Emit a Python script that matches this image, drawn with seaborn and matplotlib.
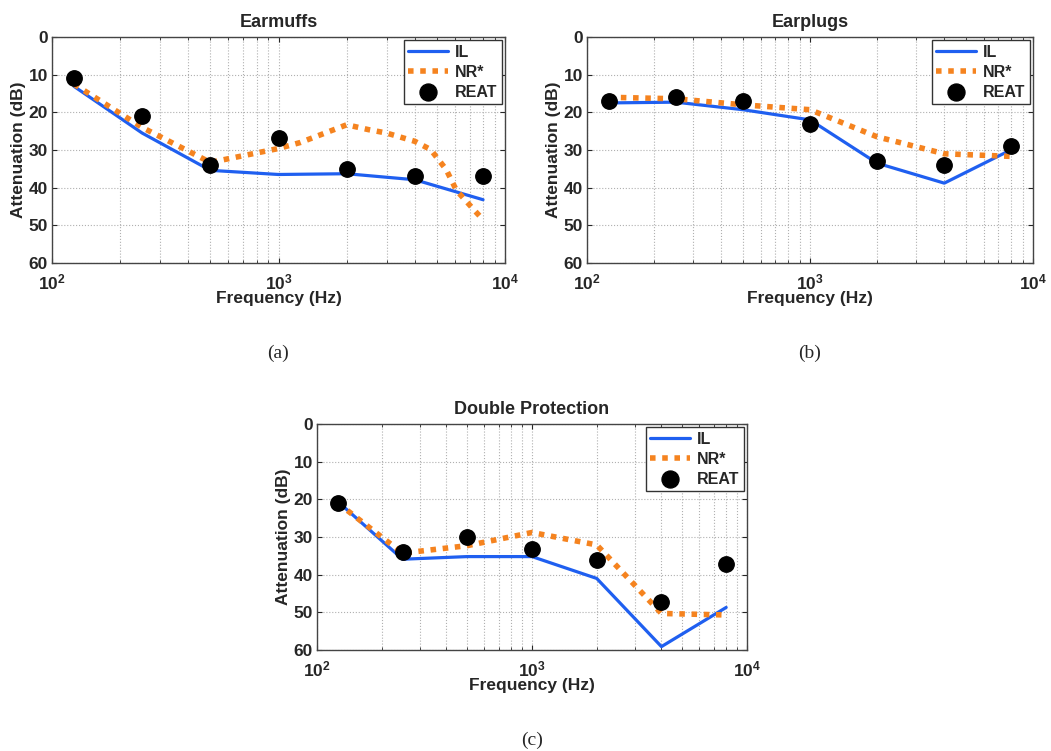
import matplotlib
matplotlib.use("Agg")
import matplotlib.pyplot as plt
import matplotlib.ticker as mticker
import seaborn as sns
import pandas as pd

# octave band centre frequencies (Hz)
freqs = [125, 250, 500, 1000, 2000, 4000, 8000]

# Earmuffs
muff_il = [13.1, 25.5, 35.4, 36.5, 36.3, 37.9, 43.2]
muff_nr_freqs = [125, 250, 500, 1000, 1250, 2000, 2500, 3000, 4000, 4700, 5500, 6100, 7400, 8000]
muff_nr = [12.5, 24.0, 33.3, 29.6, 28.0, 23.3, 24.6, 25.5, 27.7, 29.9, 35.2, 40.7, 46.3, 48.5]
muff_reat = [10.9, 20.9, 34.1, 26.8, 35.0, 37.0, 37.0]

# Earplugs
plug_il = [17.5, 17.3, 19.3, 22.0, 33.5, 38.8, 29.9]
plug_nr = [16.0, 16.4, 18.0, 19.3, 26.5, 31.0, 31.7]
plug_reat = [16.9, 15.9, 16.9, 23.0, 33.0, 34.1, 29.0]

# Double protection
dbl_il = [20.6, 35.9, 35.2, 35.2, 41.0, 59.1, 48.7]
dbl_nr = [21.0, 34.3, 32.3, 28.8, 32.1, 50.3, 50.7]
dbl_reat = [21.0, 34.0, 30.1, 33.2, 36.1, 47.2, 37.2]

titles = ["Earmuffs", "Earplugs", "Double Protection"]
panel_labels = ["(a)", "(b)", "(c)"]
y_ticks = [0, 10, 20, 30, 40, 50, 60]

sns.set_style("ticks")
plt.rcParams["font.family"] = ["Liberation Sans", "DejaVu Sans"]
plt.rcParams["font.weight"] = "bold"
plt.rcParams["mathtext.fontset"] = "custom"
plt.rcParams["mathtext.rm"] = "Liberation Sans:bold"
plt.rcParams["mathtext.bf"] = "Liberation Sans:bold"
plt.rcParams["mathtext.it"] = "Liberation Sans:bold"

blue = "#1f5ff0"
orange = "#f5831f"

fig = plt.figure(figsize=(10.51, 7.51), dpi=100)
boxes = [
    [52 / 1051, 1 - 263 / 751, 453 / 1051, 226 / 751],
    [587 / 1051, 1 - 263 / 751, 446 / 1051, 226 / 751],
    [317 / 1051, 1 - 650 / 751, 430 / 1051, 226 / 751],
]
data = [
    (freqs, muff_il, muff_nr_freqs, muff_nr, muff_reat),
    (freqs, plug_il, freqs, plug_nr, plug_reat),
    (freqs, dbl_il, freqs, dbl_nr, dbl_reat),
]

for box, (f, il, nrf, nr, reat), title, lab in zip(boxes, data, titles, panel_labels):
    ax = fig.add_axes(box)
    il_df = pd.DataFrame({"Frequency": f, "Attenuation": il})
    nr_df = pd.DataFrame({"Frequency": nrf, "Attenuation": nr})
    reat_df = pd.DataFrame({"Frequency": f, "Attenuation": reat})

    sns.lineplot(data=il_df, x="Frequency", y="Attenuation", ax=ax, color=blue,
                 lw=2.3, label="IL", sort=False)
    sns.lineplot(data=nr_df, x="Frequency", y="Attenuation", ax=ax, color=orange,
                 lw=4, ls=(0, (1, 1.2)), label="NR*", sort=False)
    sns.scatterplot(data=reat_df, x="Frequency", y="Attenuation", ax=ax, color="black",
                    s=125, edgecolor="black", label="REAT", zorder=5)

    ax.set_xscale("log")
    ax.set_xlim(100, 10000)
    ax.set_ylim(60, 0)
    ax.set_yticks(y_ticks)
    ax.xaxis.set_major_formatter(mticker.LogFormatterSciNotation())
    ax.grid(True, which="major", axis="both", ls=":", color="#b0b0b0", lw=0.8)
    ax.grid(True, which="minor", axis="x", ls=":", color="#b0b0b0", lw=0.8)
    ax.tick_params(which="both", direction="in", top=True, right=True, labelsize=12.5)
    ax.tick_params(axis="x", pad=7)
    ax.tick_params(axis="y", pad=3)
    for s in ax.spines.values():
        s.set_color("#444444")
        s.set_linewidth(1.0)
    ax.set_title(title, fontsize=13, fontweight="bold", pad=7)
    ax.set_xlabel("Frequency (Hz)", fontsize=12.5, fontweight="bold", labelpad=-1)
    ax.set_ylabel("Attenuation (dB)", fontsize=12.5, fontweight="bold", labelpad=2)

    leg = ax.legend(loc="upper right", fancybox=False, framealpha=1, edgecolor="#333333",
                    fontsize=11.5, handlelength=2.5, borderaxespad=0.2, labelspacing=0.3,
                    handletextpad=0.4, borderpad=0.3, markerscale=1.1)
    for t in leg.get_texts():
        t.set_fontweight("bold")

    x0, y0, w, h = box
    fig.text(x0 + w / 2, y0 - 0.12, lab, ha="center", va="center",
             family="Liberation Serif", fontsize=14, fontweight="normal")

fig.savefig("out.png", dpi=100)
